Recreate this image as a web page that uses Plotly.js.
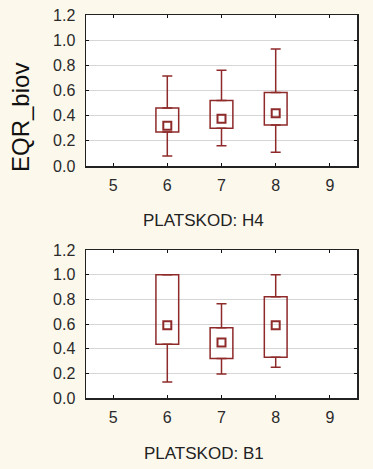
<!DOCTYPE html>
<html>
<head>
<meta charset="utf-8">
<script src="https://cdn.plot.ly/plotly-3.0.1.min.js"></script>
<style>html,body{margin:0;padding:0;background:#FCF8EC;}#chart{width:373px;height:469px;}</style>
</head>
<body>
<div id="chart"></div>
<script>
// Categories (PLATSKOD groups on the x axis)
const groups = [6, 7, 8];
const tickVals = [5, 6, 7, 8, 9];
const tickText = ['5', '6', '7', '8', '9'];

// Panel H4
const h4Median = [0.32, 0.375, 0.42];
const h4Q1 = [0.27, 0.30, 0.325];
const h4Q3 = [0.46, 0.52, 0.585];
const h4Min = [0.08, 0.16, 0.11];
const h4Max = [0.715, 0.76, 0.93];

// Panel B1
const b1Median = [0.59, 0.45, 0.59];
const b1Q1 = [0.435, 0.32, 0.33];
const b1Q3 = [1.0, 0.57, 0.82];
const b1Min = [0.13, 0.195, 0.25];
const b1Max = [1.0, 0.765, 1.0];

const red = '#8E2A2A';
const font = 'Arial, "Liberation Sans", sans-serif';
const zeros = groups.map(() => 0);

function panel(med, q1, q3, lo, hi, xa, ya) {
  const common = {xaxis: xa, yaxis: ya, showlegend: false, hoverinfo: 'skip'};
  const clear = {size: 2, color: 'rgba(0,0,0,0)'};
  return [
    Object.assign({type: 'bar', x: groups, base: q1, y: q3.map((v, i) => v - q1[i]),
      width: 0.42, marker: {color: 'rgba(255,255,255,0)', line: {color: red, width: 1.5}}}, common),
    Object.assign({type: 'scatter', mode: 'markers', x: groups, y: q3, marker: clear,
      error_y: {type: 'data', symmetric: false, array: hi.map((v, i) => v - q3[i]), arrayminus: zeros,
        color: red, thickness: 1.5, width: 5}}, common),
    Object.assign({type: 'scatter', mode: 'markers', x: groups, y: q1, marker: clear,
      error_y: {type: 'data', symmetric: false, array: zeros, arrayminus: q1.map((v, i) => v - lo[i]),
        color: red, thickness: 1.5, width: 5}}, common),
    Object.assign({type: 'scatter', mode: 'markers', x: groups, y: med,
      marker: {symbol: 'square-open', size: 8, color: red, line: {width: 2, color: red}}}, common)
  ];
}

const data = [].concat(
  panel(h4Median, h4Q1, h4Q3, h4Min, h4Max, 'x', 'y'),
  panel(b1Median, b1Q1, b1Q3, b1Min, b1Max, 'x2', 'y2')
);

const xax = (anchor) => ({
  domain: [86/373, 357/373], range: [4.5, 9.5], anchor: anchor,
  tickmode: 'array', tickvals: tickVals, ticktext: tickText,
  ticks: 'inside', ticklen: 3, tickcolor: '#111', tickwidth: 1,
  showline: true, linecolor: '#222', linewidth: 1.5, mirror: 'ticks',
  showgrid: false, zeroline: false, ticklabelstandoff: 4,
  tickfont: {family: font, size: 16, color: '#2a2a2a'}
});
const yax = (anchor, dom) => ({
  domain: dom, range: [0, 1.2], anchor: anchor,
  tickmode: 'array', tickvals: [0, 0.2, 0.4, 0.6, 0.8, 1.0, 1.2],
  ticktext: ['0.0', '0.2', '0.4', '0.6', '0.8', '1.0', '1.2'],
  ticks: 'inside', ticklen: 3, tickcolor: '#111',
  showline: true, linecolor: '#222', linewidth: 1.5, mirror: 'ticks',
  showgrid: true, gridcolor: '#d6d6d6', gridwidth: 1, zeroline: false,
  ticklabelstandoff: 6,
  tickfont: {family: font, size: 16, color: '#2a2a2a'}
});

const layout = {
  width: 373, height: 469,
  margin: {l: 0, r: 0, t: 0, b: 0},
  paper_bgcolor: '#FCF8EC', plot_bgcolor: '#FFFFFF',
  xaxis: xax('y'), yaxis: yax('x', [1 - 166/469, 1 - 15/469]),
  xaxis2: xax('y2'), yaxis2: yax('x2', [1 - 398/469, 1 - 250/469]),
  annotations: [
    {text: 'EQR_biov', xref: 'paper', yref: 'paper', x: 20/373, y: 1 - 118/469,
     textangle: -90, showarrow: false, xanchor: 'center', yanchor: 'middle',
     font: {family: font, size: 24, color: '#111'}},
    {text: 'PLATSKOD: H4', xref: 'paper', yref: 'paper', x: 203/373, y: 1 - 220/469,
     showarrow: false, xanchor: 'center', yanchor: 'middle',
     font: {family: font, size: 17, color: '#222'}},
    {text: 'PLATSKOD: B1', xref: 'paper', yref: 'paper', x: 204/373, y: 1 - 453/469,
     showarrow: false, xanchor: 'center', yanchor: 'middle',
     font: {family: font, size: 17, color: '#222'}}
  ]
};

Plotly.newPlot('chart', data, layout, {displayModeBar: false, staticPlot: true});
</script>
</body>
</html>
